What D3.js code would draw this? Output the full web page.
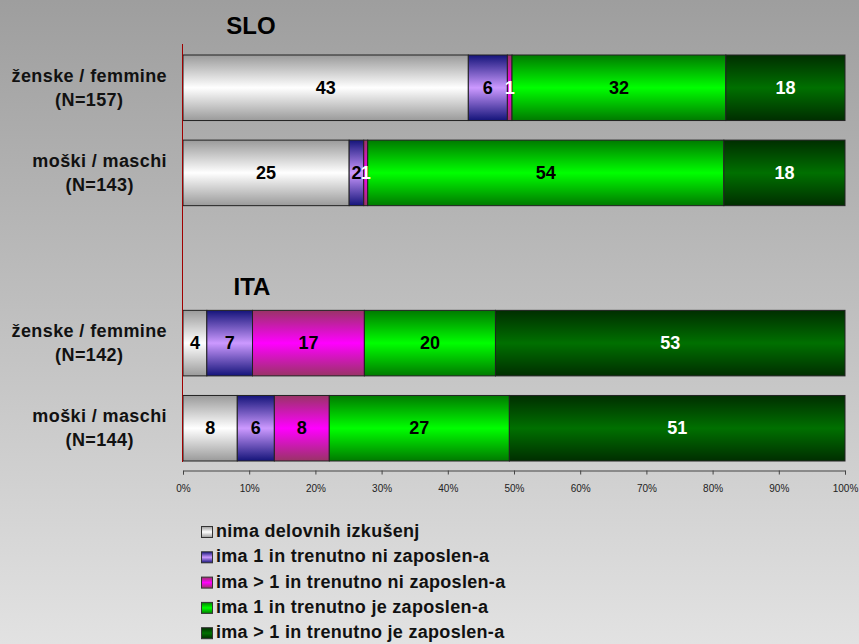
<!DOCTYPE html>
<html>
<head>
<meta charset="utf-8">
<script src="https://cdn.jsdelivr.net/npm/d3@7/dist/d3.min.js"></script>
<style>
html,body{margin:0;padding:0;}
svg{display:block;}
text{font-family:"Liberation Sans",Arial,sans-serif;}
</style>
</head>
<body>
<svg id="chart" width="859" height="644"></svg>
<script>
// ---- data ----
const groups = ["SLO", "ITA"];
const categories = [
  {group: "SLO", lines: ["ženske / femmine", "(N=157)"]},
  {group: "SLO", lines: ["moški / maschi", "(N=143)"]},
  {group: "ITA", lines: ["ženske / femmine", "(N=142)"]},
  {group: "ITA", lines: ["moški / maschi", "(N=144)"]}
];
const seriesNames = [
  "nima delovnih izkušenj",
  "ima 1 in trenutno ni zaposlen-a",
  "ima > 1 in trenutno ni zaposlen-a",
  "ima 1 in trenutno je zaposlen-a",
  "ima > 1 in trenutno je zaposlen-a"
];
const nimaDelovnih   = [43.1, 25.1, 3.6, 8.2];
const ima1NiZap      = [5.9, 2.2, 6.9, 5.6];
const imaVecNiZap    = [0.7, 0.6, 16.9, 8.3];
const ima1JeZap      = [32.3, 53.8, 19.8, 27.2];
const imaVecJeZap    = [18.0, 18.3, 52.8, 50.7];
const seriesValues = [nimaDelovnih, ima1NiZap, imaVecNiZap, ima1JeZap, imaVecJeZap];
const tickValues = [0, 10, 20, 30, 40, 50, 60, 70, 80, 90, 100];

// ---- styles ----
const gradStops = [
  {edge: "#9a9a9a", mid: "#ffffff"},
  {edge: "#14147a", mid: "#cc99ff"},
  {edge: "#993366", mid: "#ff00ff"},
  {edge: "#007a00", mid: "#00ff00"},
  {edge: "#002e00", mid: "#007000"}
];
const labelColors = ["#000", "#000", "#fff", "#000", "#fff"];
const labelColorOverride = {"2-2": "#000", "3-2": "#000"};

const svg = d3.select("#chart");
const W = 859, H = 644;
const defs = svg.append("defs");
const bg = defs.append("linearGradient").attr("id", "bg").attr("x1", 0).attr("y1", 0).attr("x2", 0).attr("y2", 1);
bg.append("stop").attr("offset", 0).attr("stop-color", "#9e9e9e");
bg.append("stop").attr("offset", 1).attr("stop-color", "#e2e2e2");
svg.append("rect").attr("width", W).attr("height", H).attr("fill", "url(#bg)");

gradStops.forEach((g, i) => {
  const lg = defs.append("linearGradient").attr("id", "g" + i)
    .attr("x1", 0).attr("y1", 0).attr("x2", 0).attr("y2", 1);
  lg.append("stop").attr("offset", 0).attr("stop-color", g.edge);
  lg.append("stop").attr("offset", 0.5).attr("stop-color", g.mid);
  lg.append("stop").attr("offset", 1).attr("stop-color", g.edge);
});

// ---- scales ----
const x = d3.scaleLinear().domain([0, 100]).range([183, 845]);
const rowKeys = ["s0", "s1", "gap", "i0", "i1"];
const y = d3.scaleBand().domain(rowKeys).range([55, 461]).paddingInner(0.23).paddingOuter(0);
const rowOf = ["s0", "s1", "i0", "i1"];

// stack
const rows = categories.map((c, ci) => {
  const vals = seriesValues.map(s => s[ci]);
  let acc = 0;
  return vals.map((v, si) => { const r = {ci, si, v, x0: acc, x1: acc + v}; acc += v; return r; });
});

const bh = y.bandwidth();
const gBars = svg.append("g");
rows.forEach((r, ci) => {
  const yy = y(rowOf[ci]);
  r.forEach(seg => {
    gBars.append("rect")
      .attr("x", x(seg.x0)).attr("y", yy)
      .attr("width", x(seg.x1) - x(seg.x0)).attr("height", bh)
      .attr("fill", `url(#g${seg.si})`)
      .attr("stroke", "#222").attr("stroke-width", 1);
  });
  r.forEach(seg => {
    const key = ci + "-" + seg.si;
    const col = labelColorOverride[key] || labelColors[seg.si];
    let cx = (x(seg.x0) + x(seg.x1)) / 2;
    gBars.append("text")
      .attr("x", cx).attr("y", yy + bh / 2)
      .attr("text-anchor", "middle").attr("dominant-baseline", "central")
      .attr("font-size", 18).attr("font-weight", "bold")
      .attr("fill", col)
      .text(d3.format(".0f")(seg.v));
  });
});

// category labels (block right-aligned at x=167, lines centred inside block)
categories.forEach((c, ci) => {
  const yy = y(rowOf[ci]) + bh / 2;
  const t = svg.append("text").attr("font-size", 18).attr("font-weight", "bold").attr("fill", "#111")
    .attr("text-anchor", "middle").attr("letter-spacing", 0.4);
  c.lines.forEach((l, li) => {
    t.append("tspan").attr("x", 0).attr("y", yy - 12 + li * 24).attr("dominant-baseline", "central").text(l);
  });
  const bbox = t.node().getBBox();
  const center = 167 - bbox.width / 2;
  t.selectAll("tspan").attr("x", center);
});

// group titles
svg.append("text").attr("x", 251).attr("y", 25).attr("text-anchor", "middle").attr("dominant-baseline", "central")
  .attr("font-size", 24).attr("font-weight", "bold").text(groups[0]);
svg.append("text").attr("x", 252).attr("y", 286).attr("text-anchor", "middle").attr("dominant-baseline", "central")
  .attr("font-size", 24).attr("font-weight", "bold").text(groups[1]);

// value axis (vertical red line)
svg.append("line").attr("x1", 182.5).attr("x2", 182.5).attr("y1", 44).attr("y2", 462)
  .attr("stroke", "#a00000").attr("stroke-width", 1);

// bottom axis
const axis = d3.axisBottom(x).tickValues(tickValues).tickFormat(d => d + "%").tickSize(4).tickPadding(10);
const ga = svg.append("g").attr("transform", "translate(0,470.5)").call(axis);
ga.select(".domain").attr("stroke", "#444");
ga.selectAll(".tick line").attr("stroke", "#444");
ga.selectAll(".tick text").attr("font-size", 10).attr("fill", "#222")
  .attr("font-family", "'Liberation Sans',Arial,sans-serif");

// legend
const leg = svg.append("g");
seriesNames.forEach((n, i) => {
  const ly = 531 + i * 25.3;
  leg.append("rect").attr("x", 201.5).attr("y", ly - 4.5).attr("width", 11).attr("height", 11)
    .attr("fill", `url(#g${i})`).attr("stroke", "#333").attr("stroke-width", 1);
  leg.append("text").attr("x", 216).attr("y", ly).attr("dominant-baseline", "central")
    .attr("font-size", 18).attr("font-weight", "bold").attr("fill", "#111").attr("letter-spacing", 0.3).text(n);
});
</script>
</body>
</html>
